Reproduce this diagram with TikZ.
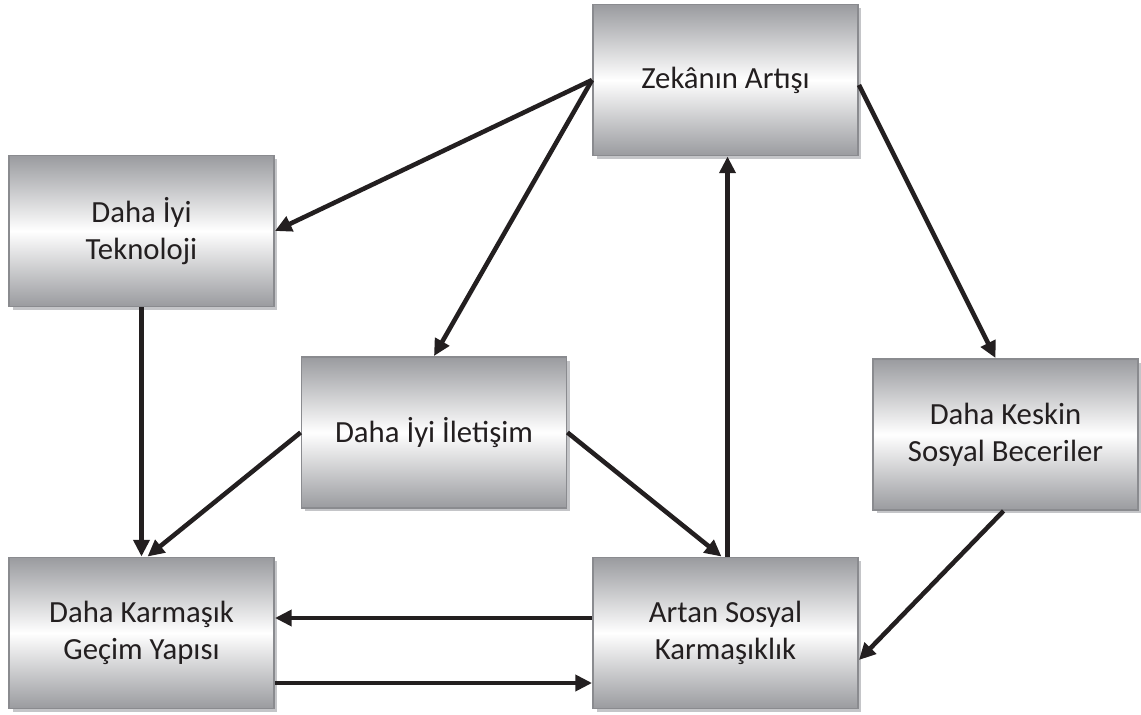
\documentclass[tikz,border=0pt]{standalone}
\usepackage{fontspec}
\setmainfont{Carlito}
\usepackage{xcolor}
\usepackage{tikz}
\usetikzlibrary{calc,arrows.meta,shadows}
\definecolor{ink}{HTML}{231F20}
\definecolor{boxgray}{HTML}{9A9B9F}
\definecolor{edge}{HTML}{8A8B8F}
\definecolor{shade}{HTML}{C4C5C8}
\tikzset{
  box/.style={draw=edge, line width=1.1pt, top color=boxgray, bottom color=boxgray,
    middle color=white, minimum width=5.3cm, minimum height=3.02cm, inner sep=0pt,
    align=center, text=ink, font=\fontsize{17.5}{21}\selectfont,
    drop shadow={shadow xshift=0.07cm, shadow yshift=-0.07cm, fill=shade, opacity=1}},
  link/.style={draw=ink, line width=2.6pt, -{Triangle[length=9.5pt,width=9pt]}},
}
\begin{document}
\begin{tikzpicture}[x=0.02cm,y=-0.02cm]
  \useasboundingbox (0,0) rectangle (1141,715);
  % boxes
  \node[box] (zeka) at (725.5,80) {Zekânın Artışı};
  \node[box] (tekno) at (141.5,231) {Daha İyi\\Teknoloji};
  \node[box] (iletisim) at (434,432.5) {Daha İyi İletişim};
  \node[box] (keskin) at (1005.5,434.5) {Daha Keskin\\Sosyal Beceriler};
  \node[box] (gecim) at (141.5,633) {Daha Karmaşık\\Geçim Yapısı};
  \node[box] (artan) at (725.5,633) {Artan Sosyal\\Karmaşıklık};
  % arrows
  \draw[link] (zeka.west) -- (tekno.east);
  \draw[link] (zeka.west) -- (iletisim.north);
  \draw[link] ($(zeka.east)+(0,5)$) -- ($(keskin.north)+(-10,0)$);
  \draw[link] (tekno.south) -- (gecim.north);
  \draw[link] (iletisim.west) -- ($(gecim.north)+(6,0)$);
  \draw[link] (iletisim.east) -- ($(artan.north)+(-4,0)$);
  \draw[link] ($(artan.north)+(2,0)$) -- ($(zeka.south)+(2,0)$);
  \draw[link] ($(artan.west)+(0,-15)$) -- ($(gecim.east)+(0,-15)$);
  \draw[link] ($(gecim.east)+(0,50)$) -- ($(artan.west)+(0,50)$);
  \draw[link] ($(keskin.south)+(-2,0)$) -- ($(artan.east)+(0,27)$);
\end{tikzpicture}
\end{document}
